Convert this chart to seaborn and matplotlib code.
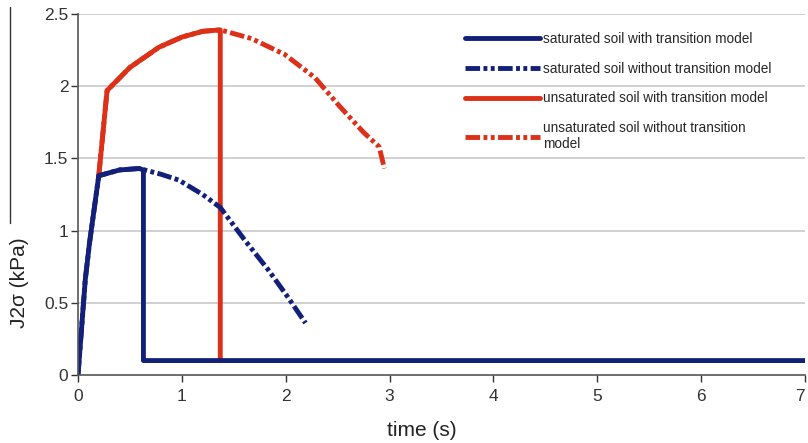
import numpy as np
import pandas as pd
import matplotlib
matplotlib.use("Agg")
import matplotlib.pyplot as plt
import seaborn as sns
from matplotlib.lines import Line2D

# values
sat_with_t = [0.0, 0.07, 0.11, 0.20, 0.40, 0.59, 0.63, 0.63, 7.0]
sat_with_y = [0.0, 0.66, 0.91, 1.38, 1.42, 1.43, 1.42, 0.10, 0.10]

sat_without_t = [0.0, 0.07, 0.11, 0.20, 0.40, 0.59, 0.80, 0.97, 1.20, 1.37, 1.61, 1.83, 2.02, 2.19]
sat_without_y = [0.0, 0.66, 0.91, 1.38, 1.42, 1.43, 1.39, 1.35, 1.25, 1.16, 0.93, 0.73, 0.54, 0.36]

unsat_with_t = [0.20, 0.28, 0.50, 0.78, 1.00, 1.20, 1.37, 1.37]
unsat_with_y = [1.38, 1.97, 2.13, 2.27, 2.34, 2.38, 2.39, 0.10]

unsat_without_t = [0.20, 0.28, 0.50, 0.78, 1.00, 1.20, 1.37, 1.67, 1.99, 2.28, 2.52, 2.75, 2.90, 2.95]
unsat_without_y = [1.38, 1.97, 2.13, 2.27, 2.34, 2.38, 2.39, 2.33, 2.22, 2.06, 1.86, 1.68, 1.58, 1.43]

labels = ["saturated soil with transition model",
          "saturated soil without transition model",
          "unsaturated soil with transition model",
          "unsaturated soil without transition\nmodel"]

x_ticks = [0, 1, 2, 3, 4, 5, 6, 7]
y_ticks = [0, 0.5, 1, 1.5, 2, 2.5]
y_tick_labels = ["0", "0.5", "1", "1.5", "2", "2.5"]

blue = "#13207a"
red = "#dc3018"
dash = (0, (3.0, 0.7, 0.8, 0.7, 0.8, 0.7))

sns.set_theme(style="white")
plt.rcParams["font.family"] = ["Liberation Sans", "DejaVu Sans"]

fig = plt.figure(figsize=(8.08, 4.43), dpi=100)
ax = fig.add_axes([78 / 808, 1 - 375 / 443, 727 / 808, 361 / 443])

for yv in y_ticks[1:]:
    ax.axhline(yv, color="#c8c8c8", lw=1.2, zorder=0)

sns.lineplot(x=unsat_without_t, y=unsat_without_y, sort=False, estimator=None,
             color=red, lw=3.5, linestyle=dash, ax=ax)
sns.lineplot(x=unsat_with_t, y=unsat_with_y, sort=False, estimator=None,
             color=red, lw=3.5, ax=ax)
sns.lineplot(x=sat_without_t, y=sat_without_y, sort=False, estimator=None,
             color=blue, lw=3.5, linestyle=dash, ax=ax)
sns.lineplot(x=sat_with_t, y=sat_with_y, sort=False, estimator=None,
             color=blue, lw=3.5, ax=ax)

ax.set_xlim(0, 7)
ax.set_ylim(0, 2.5)
ax.set_xticks(x_ticks)
ax.set_yticks(y_ticks)
ax.set_yticklabels(y_tick_labels)
ax.tick_params(axis="both", labelsize=12.5, colors="#333333", length=5, width=1,
               direction="out", left=True, bottom=True)
ax.tick_params(axis="x", pad=5)
ax.tick_params(axis="y", pad=2)
ax.get_xticklabels()[-1].set_horizontalalignment("right")
for s in ["top", "right"]:
    ax.spines[s].set_visible(False)
for s in ["left", "bottom"]:
    ax.spines[s].set_color("#555555")
    ax.spines[s].set_linewidth(1.2)
ax.set_xlabel("")
ax.set_ylabel("")

handles = [Line2D([], [], color=blue, lw=3.5),
           Line2D([], [], color=blue, lw=3.5, linestyle=dash),
           Line2D([], [], color=red, lw=3.5),
           Line2D([], [], color=red, lw=3.5, linestyle=dash)]
fig.legend(handles, labels, loc="upper left", bbox_to_anchor=(465 / 808, 1 - 32 / 443),
           frameon=False, fontsize=9.8, handlelength=5.5, handletextpad=0.2,
           labelspacing=1.15, borderpad=0, borderaxespad=0)

fig.text(422 / 808, 1 - 430 / 443, "time (s)", fontsize=15, ha="center", va="center",
         color="#222222")
fig.text(20 / 808, 1 - 283 / 443, "J2σ (kPa)", fontsize=15, rotation=90,
         ha="center", va="center", color="#222222")
fig.add_artist(Line2D([10 / 808, 10 / 808], [1 - 7 / 443, 1 - 223 / 443],
                      color="#333333", lw=1))

fig.savefig("out.png", dpi=100)
